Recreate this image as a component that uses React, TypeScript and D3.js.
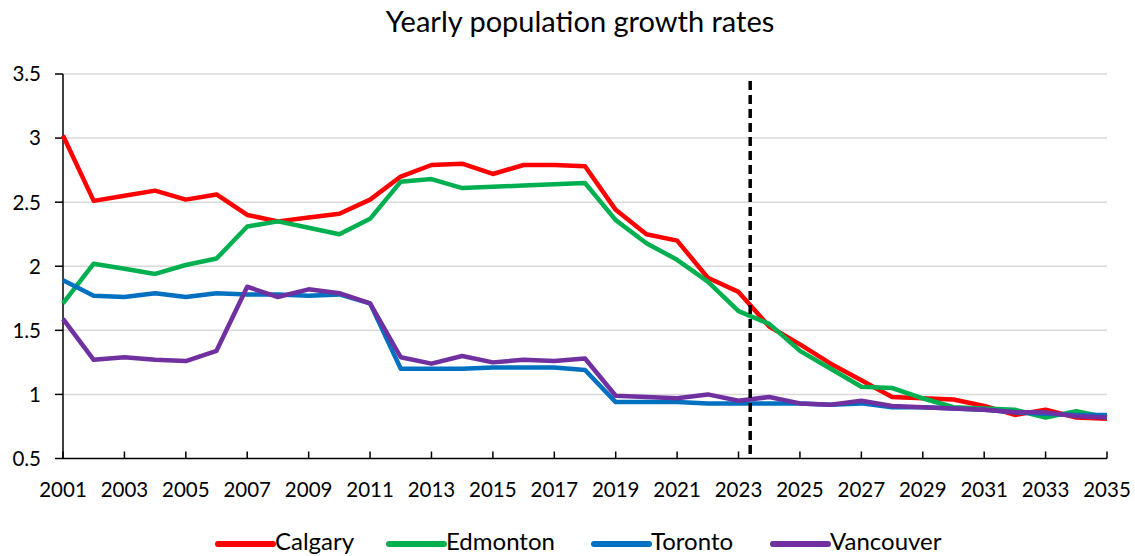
import React from "react";
import * as d3 from "d3";

const years: number[] = d3.range(2001, 2036);
const calgary = [3.02, 2.51, 2.55, 2.59, 2.52, 2.56, 2.40, 2.35, 2.38, 2.41, 2.52, 2.70, 2.79, 2.80, 2.72, 2.79, 2.79, 2.78, 2.44, 2.25, 2.20, 1.91, 1.80, 1.53, 1.39, 1.24, 1.11, 0.98, 0.97, 0.96, 0.91, 0.84, 0.88, 0.82, 0.81];
const edmonton = [1.71, 2.02, 1.98, 1.94, 2.01, 2.06, 2.31, 2.35, 2.30, 2.25, 2.37, 2.66, 2.68, 2.61, 2.62, 2.63, 2.64, 2.65, 2.36, 2.18, 2.05, 1.88, 1.65, 1.55, 1.34, 1.20, 1.06, 1.05, 0.97, 0.90, 0.89, 0.88, 0.82, 0.87, 0.82];
const toronto = [1.89, 1.77, 1.76, 1.79, 1.76, 1.79, 1.78, 1.78, 1.77, 1.78, 1.71, 1.20, 1.20, 1.20, 1.21, 1.21, 1.21, 1.19, 0.94, 0.94, 0.94, 0.93, 0.93, 0.93, 0.93, 0.92, 0.93, 0.90, 0.90, 0.89, 0.88, 0.86, 0.85, 0.84, 0.84];
const vancouver = [1.59, 1.27, 1.29, 1.27, 1.26, 1.34, 1.84, 1.76, 1.82, 1.79, 1.71, 1.29, 1.24, 1.30, 1.25, 1.27, 1.26, 1.28, 0.99, 0.98, 0.97, 1.00, 0.95, 0.98, 0.93, 0.92, 0.95, 0.91, 0.90, 0.89, 0.88, 0.86, 0.86, 0.83, 0.82];
const seriesNames = ["Calgary", "Edmonton", "Toronto", "Vancouver"];
const seriesColors = ["#ff0000", "#00b050", "#0070c0", "#7030a0"];
const yTicks = [0.5, 1, 1.5, 2, 2.5, 3, 3.5];
const xTickYears = d3.range(2001, 2036, 2);
const forecastYear = 2023.38;
const title = "Yearly population growth rates";

const FONT = "Lato, 'Open Sans', sans-serif";

export default function App() {
  const W = 1135, H = 556;
  const x = d3.scaleLinear().domain([2001, 2035]).range([63, 1107]);
  const y = d3.scaleLinear().domain([0.5, 3.5]).range([458.5, 74]);
  const allSeries = [calgary, edmonton, toronto, vancouver];
  const line = d3.line<number>().x((_, i) => x(years[i])).y((d) => y(d));
  const legendX = [218, 389, 594, 773];
  const legendY = 544;

  return (
    <svg width={W} height={H} style={{ position: "absolute", left: 0, top: 0, background: "#fff" }}>
      <rect width={W} height={H} fill="#fff" />
      <text x={580} y={32} textAnchor="middle" fontFamily={FONT} fontSize={29} fill="#000">{title}</text>
      {yTicks.map((t) => (
        <g key={t}>
          {t > 0.5 && <line x1={63} x2={1107} y1={y(t)} y2={y(t)} stroke="#d9d9d9" strokeWidth={1.5} />}
          <line x1={55} x2={63} y1={y(t)} y2={y(t)} stroke="#000" strokeWidth={1.5} />
          <text x={41} y={y(t)} dy="0.36em" textAnchor="end" fontFamily={FONT} fontSize={20.5} fill="#000">{String(t)}</text>
        </g>
      ))}
      <line x1={63} x2={63} y1={y(3.5)} y2={y(0.5)} stroke="#000" strokeWidth={1.5} />
      <line x1={63} x2={1107} y1={y(0.5)} y2={y(0.5)} stroke="#000" strokeWidth={1.5} />
      {xTickYears.map((yr) => (
        <g key={yr}>
          <line x1={x(yr)} x2={x(yr)} y1={y(0.5)} y2={y(0.5) - 7} stroke="#000" strokeWidth={1.5} />
          <text x={x(yr)} y={497} textAnchor="middle" fontFamily={FONT} fontSize={20.5} fill="#000">{yr}</text>
        </g>
      ))}
      {allSeries.map((s, i) => (
        <path key={seriesNames[i]} d={line(s) || ""} fill="none" stroke={seriesColors[i]} strokeWidth={4.5} strokeLinejoin="round" />
      ))}
      <line x1={x(forecastYear)} x2={x(forecastYear)} y1={81} y2={y(0.5)} stroke="#000" strokeWidth={3.5} strokeDasharray="9 5" />
      {seriesNames.map((n, i) => (
        <g key={n}>
          <line x1={legendX[i]} x2={legendX[i] + 55} y1={legendY} y2={legendY} stroke={seriesColors[i]} strokeWidth={6} strokeLinecap="round" />
          <text x={legendX[i] + 57} y={550} fontFamily={FONT} fontSize={24} fill="#000">{n}</text>
        </g>
      ))}
    </svg>
  );
}
